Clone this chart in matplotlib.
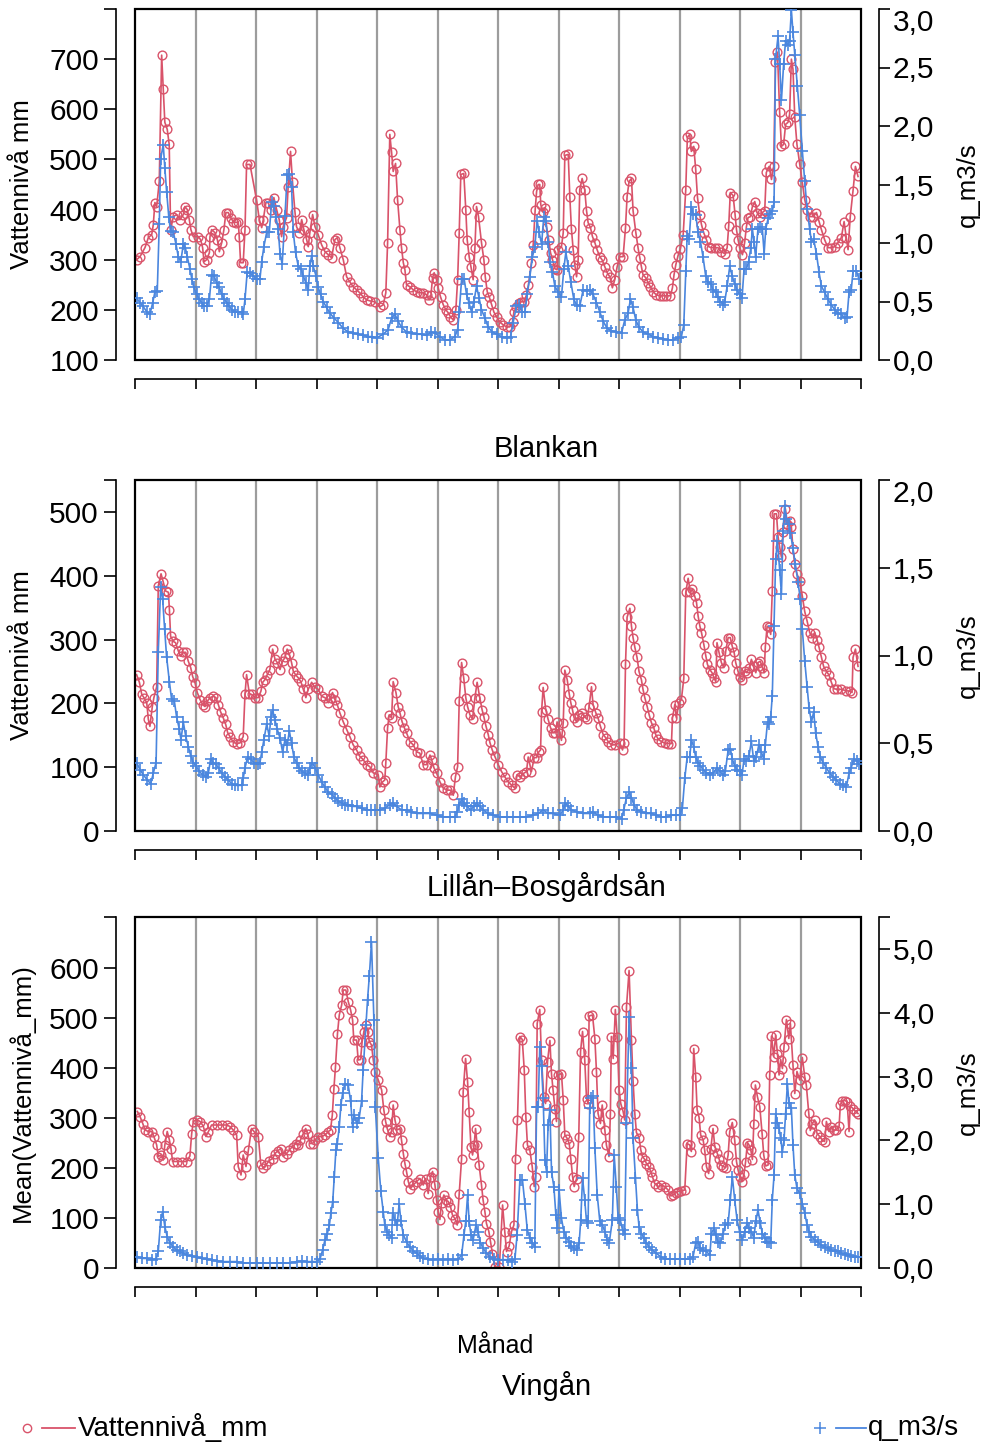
import matplotlib
matplotlib.use('Agg')
import matplotlib.pyplot as plt
from matplotlib.lines import Line2D
from matplotlib.patches import Rectangle

plt.rcParams['font.family'] = ['Liberation Sans', 'DejaVu Sans']

# ---------------- data: (day of year, value) ----------------
blankan_niva = [
    (0.8,300),(2.5,306),(5,324),(6.7,344),(8.4,350),(9.2,370),(10,414),(10.9,406),(12.2,456),(13.4,708),
    (14.2,640),(15,574),(16.2,560),(17.2,530),(17.9,360),(19.3,386),(20.9,390),(22.6,380),(24.3,390),(25.1,406),
    (26.3,400),(27.3,380),(28.1,360),(29.3,346),(31.8,346),(33,340),(34,324),(34.7,296),(36,300),(37.4,314),
    (37.7,346),(38.5,360),(40.2,354),(41.4,340),(42.4,316),(43.6,334),(44.7,360),(45.7,394),(46.9,394),(48.1,384),
    (49.4,376),(50.8,374),(51.9,376),(52.4,346),(53.1,294),(54.4,294),(55.3,360),(56.1,490),(57.8,490),(61.1,420),
    (62.5,380),(63.7,364),(64.5,380),(65.8,414),(67,414),(68.2,400),(69.8,424),(71.2,400),(72.5,380),(73.7,346),
    (74.5,366),(76.2,384),(77,446),(78.2,516),(79.2,454),(80.4,396),(81.2,366),(82.6,354),(83.8,380),(84.9,360),
    (86.3,340),(87.1,326),(87.9,354),(89.3,390),(90.5,366),(92.1,350),(93.8,330),(95.5,316),(97.2,310),(98.8,304),
    (100.5,340),(101.7,344),(103,324),(104.7,300),(106.4,266),(108,256),(109.7,246),(111.4,240),(113,234),(114.7,226),
    (116.4,220),(118,218),(120.6,216),(123,206),(124.8,210),(126.1,234),(127,334),(128.1,550),(129,514),(129.8,476),
    (131,492),(132,420),(133.2,360),(134,324),(134.9,294),(135.7,280),(136.5,250),(138.2,246),(139.9,240),(141.6,236),
    (143.2,234),(144.9,234),(146.6,230),(147.9,220),(148.8,230),(149.6,264),(150.4,274),(151.6,260),(152.4,244),(153.6,226),
    (155,210),(156.3,200),(157.5,194),(158.6,186),(160,180),(161.3,200),(162.2,260),(163,354),(163.8,470),(165.3,472),
    (166.3,400),(167,340),(168,306),(168.9,286),(170,260),(170.9,324),(171.7,406),(172.7,386),(174.2,334),(175.4,300),
    (176.1,266),(177.1,236),(178.1,226),(179.2,212),(180.4,196),(181.8,186),(183.4,176),(185.1,170),(186.8,166),(188.4,166),
    (189.8,176),(190.5,196),(191.8,206),(193.1,214),(194.3,216),(195.7,216),(196.8,230),(197.8,250),(199.3,294),(200.2,330),
    (201.2,400),(201.9,436),(202.7,450),(203.5,450),(204,410),(204.9,396),(206,404),(206.9,366),(208,340),(208.9,314),
    (209.9,300),(211.1,282),(212.2,280),(212.9,320),(214.4,326),(215.3,354),(216.1,508),(217.8,510),(218.6,426),(219.4,362),
    (220.3,320),(221.1,290),(222,266),(222.8,300),(223.6,440),(224.8,462),(226.1,440),(227,398),(227.8,374),(229,364),
    (230,346),(231.2,334),(232.3,320),(233.7,306),(234.8,300),(236.2,286),(237.4,274),(238.7,266),(240,244),(241.2,260),
    (242.4,286),(243.7,306),(245.4,306),(246.6,364),(247.4,426),(248.4,456),(249.6,462),(250.4,398),(251.8,354),(252.9,324),
    (253.8,304),(254.6,286),(255.4,270),(256.8,264),(258,254),(259.1,246),(260.5,236),(262.1,230),(263.8,228),(265.5,228),
    (267.2,228),(269.2,228),(270.2,244),(271,270),(271.9,290),(273,308),(274.2,322),(275.6,350),(276.9,440),(277.7,544),
    (278.9,550),(279.7,516),(280.9,526),(281.9,480),(282.8,424),(283.9,390),(284.8,370),(285.9,354),(287.3,340),(288.4,326),
    (289.8,324),(291.5,324),(293.1,324),(294.8,316),(296.5,312),(297.7,324),(298.5,368),(299.3,434),(300.7,428),(301.7,390),
    (302.4,360),(303.2,340),(304,324),(305.4,310),(306.5,334),(307.4,366),(308.2,384),(309.4,386),(310.4,406),(311.6,416),
    (312.7,394),(314.1,386),(315.4,394),(316.6,398),(317.4,474),(318.8,486),(320,460),(321.1,486),(322,694),(323,714),
    (324.1,594),(325,526),(326.1,530),(327.1,570),(328.3,574),(329.1,590),(330,700),(330.8,680),(331.7,584),(332.8,530),
    (334.2,490),(335.5,454),(336.7,420),(337.9,400),(339.2,386),(340.9,386),(342.6,394),(343.9,376),(345.1,360),(346.7,340),
    (348.4,324),(350.1,324),(351.8,326),(353.4,334),(355.1,344),(356.5,376),(357.6,344),(358.5,320),(359.6,386),(361,438),
    (362.2,486),(363.5,466),
]
blankan_q = [
    (0.8,0.53),(2.5,0.49),(4,0.46),(6,0.41),(7.5,0.39),(8.9,0.49),(10,0.58),(11.2,0.59),(12.2,1.16),(12.9,1.72),
    (14.2,1.84),(15,1.64),(15.9,1.44),(17,1.22),(17.9,1.10),(19.3,1.09),(20.6,0.99),(21.8,0.88),(23,0.84),(24.3,0.99),
    (25.3,0.96),(26.3,0.88),(27.6,0.78),(28.6,0.69),(29.6,0.62),(31,0.56),(32.3,0.52),(33.5,0.49),(34.7,0.46),(36,0.46),
    (37.4,0.52),(38.5,0.73),(39.7,0.72),(41,0.66),(42.4,0.62),(43.6,0.56),(44.9,0.52),(46.1,0.49),(47.4,0.46),(48.7,0.43),
    (50.3,0.41),(51.9,0.41),(53.6,0.41),(54.4,0.39),(55.3,0.52),(56.4,0.75),(57.8,0.74),(59.5,0.72),(61.1,0.69),(62.8,0.69),
    (63.7,0.84),(64.8,0.97),(66.2,1.09),(67.5,1.09),(68.7,1.35),(69.8,1.32),(70.9,1.22),(72,1.12),(72.9,0.91),(74,0.82),
    (75.4,1.23),(76.5,1.58),(77.6,1.59),(78.7,1.48),(79.6,1.09),(80.7,0.92),(82.1,0.80),(83.4,0.78),(84.6,0.72),(85.9,0.66),
    (87.1,0.60),(87.9,0.80),(88.8,0.89),(89.6,0.80),(91,0.72),(92.1,0.62),(93.3,0.56),(94.6,0.50),(96.3,0.45),(98,0.40),
    (100,0.36),(102.2,0.32),(104.7,0.27),(107.2,0.24),(109.7,0.23),(112.2,0.22),(114.7,0.21),(117.3,0.20),(119,0.20),(121.5,0.19),
    (124.8,0.22),(127.3,0.26),(129,0.36),(130.7,0.39),(132.3,0.33),(134,0.28),(136.5,0.24),(139,0.23),(141.6,0.22),(144.1,0.22),
    (146.6,0.21),(148.8,0.24),(150.8,0.23),(153.3,0.20),(155.8,0.17),(158.3,0.17),(160.8,0.20),(162.2,0.26),(163,0.41),(164.2,0.69),
    (165.5,0.69),(166.7,0.56),(167.9,0.49),(169.2,0.41),(170.4,0.50),(171.7,0.63),(173,0.53),(174.2,0.43),(175.9,0.36),(177.6,0.28),
    (179.6,0.24),(181.8,0.22),(184.3,0.20),(186.8,0.19),(188.8,0.20),(190.1,0.32),(191.8,0.46),(193.1,0.47),(194.8,0.41),(196,0.41),
    (197.2,0.56),(198.5,0.71),(199.8,0.88),(201,0.97),(202.2,1.19),(203.2,1.09),(204.4,0.99),(205.5,1.22),(206.5,1.19),(207.7,1.01),
    (208.6,0.84),(209.9,0.75),(211.1,0.63),(212.7,0.58),(214.4,0.54),(215.6,0.78),(216.6,0.92),(217.8,0.80),(219.1,0.67),(220.6,0.52),
    (222,0.47),(223.6,0.46),(225.3,0.60),(227,0.59),(228.6,0.60),(230.3,0.56),(232,0.49),(233.7,0.41),(235.4,0.33),(237.4,0.27),
    (239.5,0.25),(242,0.24),(244.6,0.23),(246.2,0.34),(247.9,0.40),(249.1,0.52),(250.4,0.45),(251.8,0.34),(253.4,0.28),(255.4,0.24),
    (258,0.22),(260.5,0.20),(263,0.19),(265.5,0.18),(268,0.17),(270.5,0.17),(273,0.19),(274.7,0.20),(275.9,0.30),(276.9,0.76),
    (277.6,1.06),(278.6,1.03),(279.7,1.31),(280.6,1.25),(281.9,1.24),(283.1,1.09),(284.3,1.01),(285.6,0.88),(286.9,0.72),(288.1,0.67),
    (289.5,0.65),(290.6,0.60),(292,0.58),(293.1,0.54),(294.3,0.50),(295.7,0.47),(296.5,0.50),(297.7,0.63),(299,0.80),(300.2,0.72),
    (301.5,0.65),(302.7,0.60),(304,0.56),(305.2,0.53),(306.2,0.78),(307.4,0.78),(308.5,0.84),(309.6,0.96),(310.4,1.12),(311.2,1.01),
    (312,0.88),(313.2,1.12),(314.4,1.14),(315.4,1.12),(316.3,0.91),(317.1,1.12),(318.3,1.21),(319.1,1.25),(320.4,1.27),(321.3,1.35),
    (322,2.57),(323.3,2.77),(324.1,2.53),(325,2.22),(326.1,2.53),(327.1,2.73),(328.3,2.69),(329.1,2.73),(330,2.99),(330.8,2.80),
    (331.7,2.61),(333,2.34),(334.2,2.09),(335.5,1.79),(336.7,1.53),(337.9,1.29),(339.2,1.12),(340.1,1.01),(341.2,1.03),(342.6,0.91),
    (343.9,0.75),(345.1,0.63),(346.7,0.58),(348.4,0.52),(350.1,0.47),(351.8,0.43),(353.4,0.40),(355.1,0.39),(356.8,0.36),(358,0.37),
    (359,0.58),(360.1,0.60),(361,0.76),(362.7,0.76),(364,0.69),
]
lillan_niva = [
    (0.8,245),(2.2,233),(3.4,214),(4.5,209),(5.9,201),(6.7,175),(7.5,164),(8.7,195),(9.5,209),(10.9,226),
    (11.7,384),(13.1,403),(14.2,390),(15.4,376),(16.8,374),(17.3,347),(17.9,305),(19.3,297),(20.4,295),(21.8,282),
    (22.9,274),(24.3,280),(25.5,280),(26.8,266),(28,256),(29,242),(30.2,232),(31.3,217),(32.7,206),(34,198),
    (35.2,195),(36.3,203),(37.7,209),(39.4,211),(40.7,209),(41.9,198),(43,187),(44.4,177),(45.6,167),(46.6,154),
    (47.7,148),(49.4,139),(51.1,137),(52.8,138),(54.4,148),(55.3,214),(56.1,245),(57.5,215),(58.6,214),(60.3,209),
    (62,209),(63.3,219),(64.2,233),(65.3,237),(66.5,245),(67.8,253),(69.2,285),(70.4,269),(71.5,264),(72.9,253),
    (74.2,266),(75.4,272),(76.5,285),(77.6,277),(78.7,264),(79.6,250),(80.7,245),(82.1,240),(83.4,234),(84.6,222),
    (85.9,209),(87.1,222),(88.8,233),(90.5,225),(92.1,222),(93.8,211),(95.5,209),(97.2,201),(98.3,209),(99.3,217),
    (100.5,206),(101.7,198),(103,185),(104.7,171),(106.4,159),(108,148),(109.7,135),(111.4,127),(113,117),(114.7,112),
    (116.4,104),(118,101),(119.8,91),(122.3,88),(123.1,69),(124.5,77),(125.6,80),(126.1,107),(127,162),(127.8,182),
    (129,177),(129.8,234),(131.2,217),(132.3,195),(133.2,185),(134.3,171),(135.4,162),(136.5,154),(138.2,140),(139.9,135),
    (141.6,124),(143.2,122),(144.9,104),(146.6,104),(148.3,119),(149.1,112),(150.3,99),(151.6,91),(153.3,77),(155,67),
    (157,64),(158.6,64),(160,56),(161.1,85),(162.2,101),(163,203),(164.2,264),(165.3,239),(166.3,209),(167.2,195),
    (168.4,182),(169.7,175),(170.9,209),(172,233),(173.4,208),(174.5,190),(175.4,179),(176.4,165),(177.6,151),(178.4,139),
    (179.6,127),(180.9,117),(182.6,104),(184.3,93),(185.9,85),(187.6,77),(189.3,72),(191,67),(192.1,88),(193.5,85),
    (195.2,90),(196.8,93),(197.7,116),(199.3,93),(200.7,115),(201.9,115),(203,124),(203.9,127),(204.4,187),(205.2,225),
    (206.5,190),(207.7,175),(208.9,162),(210.2,154),(211.4,154),(212.2,171),(213.6,154),(214.4,142),(215.3,170),(216.1,252),
    (217.3,237),(218.3,215),(219.1,201),(220,189),(220.8,177),(222,171),(223.1,182),(224.5,185),(226.1,179),(227.3,175),
    (228.3,195),(229.5,226),(230.3,198),(231.7,185),(232.8,177),(234,164),(235.4,151),(236.7,146),(237.9,140),(239.5,135),
    (241.2,135),(243.7,138),(245.1,127),(245.9,138),(246.6,261),(247.4,335),(248.8,349),(249.6,321),(250.4,303),(251.3,288),
    (252.4,272),(253.4,250),(254.6,237),(255.4,222),(256.3,209),(257.5,195),(258.5,182),(259.6,170),(260.8,162),(261.8,151),
    (263,144),(264.7,140),(266.3,138),(268,137),(269.7,137),(270.2,177),(271.4,198),(272.2,177),(273.4,201),(274.7,206),
    (275.9,239),(276.9,374),(278.1,396),(279.2,374),(280.2,379),(281.4,368),(282.3,358),(283.1,337),(284,321),(284.8,311),
    (286,292),(287,274),(287.8,261),(289,253),(290.1,248),(291.1,240),(292,234),(292.6,295),(293.6,280),(294.8,264),
    (296,256),(297,282),(298.2,303),(299.3,303),(300.3,289),(301.2,280),(302,264),(303.2,250),(304,242),(305.4,237),
    (306.5,250),(307.7,248),(308.7,255),(309.9,269),(311.1,258),(312.1,248),(313.2,264),(314.4,266),(315.4,256),(316.3,248),
    (316.9,289),(317.8,321),(318.8,319),(319.6,308),(320.4,376),(321.3,497),(322.5,497),(323.3,461),(324.1,445),(325,429),
    (325.8,468),(327,505),(328,481),(329.1,486),(330,476),(330.8,442),(331.7,418),(332.8,403),(334.2,392),(335.5,368),
    (336.7,344),(337.9,329),(339.2,311),(340.5,303),(341.7,311),(342.9,300),(343.9,288),(345.1,272),(346.2,258),(347.6,250),
    (348.8,245),(350.1,233),(351.3,223),(353,222),(355.1,222),(357.3,220),(359.3,219),(360.5,217),(361,272),(362.2,285),
    (363.5,258),
]
lillan_q = [
    (0.8,0.39),(2.5,0.35),(4.2,0.32),(6.2,0.29),(7.9,0.27),(9.2,0.33),(10.6,0.39),(11.7,1.02),(12.9,1.39),(13.9,1.32),
    (14.9,1.15),(15.9,0.99),(17.3,0.85),(18.4,0.75),(19.8,0.74),(20.9,0.65),(22.3,0.58),(23.1,0.52),(24.3,0.62),(25.5,0.54),
    (26.8,0.48),(28,0.43),(29.3,0.39),(30.7,0.37),(32.3,0.34),(34,0.32),(35.7,0.31),(36.9,0.33),(38,0.41),(39.4,0.39),
    (40.7,0.38),(42,0.36),(43.6,0.33),(45.2,0.31),(46.9,0.29),(48.6,0.27),(50.3,0.26),(51.9,0.26),(53.6,0.26),(54.4,0.30),
    (55.3,0.36),(56.6,0.42),(58.1,0.41),(59.8,0.39),(61.6,0.38),(62.8,0.39),(63.7,0.45),(64.8,0.52),(66.2,0.61),(67.5,0.54),
    (68.3,0.65),(69.2,0.69),(70.4,0.63),(71.5,0.58),(72.9,0.53),(74.2,0.45),(75.4,0.52),(76.5,0.49),(77.6,0.57),(78.7,0.50),
    (79.9,0.42),(81.2,0.39),(82.6,0.36),(83.9,0.34),(85.4,0.33),(86.8,0.32),(87.9,0.36),(89.1,0.39),(90.5,0.36),(92.1,0.32),
    (93.8,0.28),(95.5,0.25),(97.2,0.22),(98.8,0.21),(100.5,0.19),(102.2,0.17),(103.9,0.16),(105.5,0.15),(107.2,0.15),(108.9,0.14),
    (111.4,0.14),(113.9,0.13),(116.4,0.12),(118.9,0.12),(120.6,0.12),(123.1,0.12),(125.6,0.13),(128.1,0.15),(129.8,0.16),(131.5,0.14),
    (134,0.12),(136.5,0.12),(139,0.11),(141.6,0.10),(144.9,0.10),(148.3,0.10),(151.6,0.09),(155,0.08),(158.3,0.08),(160.8,0.08),
    (162,0.11),(163,0.15),(164.2,0.18),(165.5,0.16),(167,0.14),(168.7,0.12),(170.4,0.14),(171.7,0.16),(173.4,0.14),(175,0.12),
    (177.6,0.10),(180.1,0.09),(183.4,0.08),(186.8,0.08),(190.1,0.08),(193.5,0.08),(196.8,0.08),(200.2,0.09),(202.7,0.10),(205.2,0.12),
    (207.7,0.10),(210.2,0.10),(213.6,0.09),(215.3,0.12),(216.4,0.16),(217.8,0.14),(219.4,0.12),(222,0.11),(225.3,0.10),(228.6,0.10),
    (230.3,0.11),(232.8,0.09),(235.4,0.08),(238.7,0.08),(242,0.08),(244.6,0.07),(245.7,0.12),(247.1,0.19),(248.4,0.22),(249.6,0.19),
    (250.8,0.15),(252.4,0.12),(254.6,0.11),(257.1,0.10),(259.6,0.10),(262.1,0.09),(264.7,0.08),(267.2,0.08),(269.7,0.09),(272.2,0.09),
    (273.9,0.09),(275.2,0.13),(276.4,0.30),(277.6,0.42),(278.9,0.42),(279.7,0.52),(280.9,0.48),(281.9,0.42),(283.1,0.39),(284.3,0.37),
    (285.6,0.35),(287.3,0.33),(289,0.32),(290.6,0.33),(292.6,0.36),(294,0.34),(295.7,0.32),(296.8,0.34),(298.2,0.46),(299.3,0.47),
    (300.3,0.41),(301.5,0.37),(302.7,0.35),(304,0.34),(305.2,0.32),(306.2,0.41),(307.4,0.40),(308.7,0.43),(309.9,0.51),(311.1,0.40),
    (312.4,0.42),(313.6,0.49),(314.9,0.45),(316.1,0.41),(316.9,0.49),(318,0.62),(318.8,0.61),(319.6,0.65),(320.4,0.77),(321.3,1.17),
    (322.1,1.55),(323,1.65),(324.1,1.49),(325,1.35),(325.8,1.71),(326.6,1.85),(327.5,1.78),(328.7,1.75),(329.5,1.70),(330.8,1.61),
    (332,1.52),(333.3,1.42),(334.5,1.32),(335.5,1.15),(336.7,0.97),(337.9,0.82),(338.9,0.70),(340.1,0.62),(341.2,0.68),(342.2,0.56),
    (343.4,0.48),(344.6,0.42),(345.9,0.39),(347.6,0.36),(349.2,0.33),(350.9,0.31),(352.6,0.29),(354.3,0.27),(356,0.26),(357.6,0.25),
    (359,0.33),(360.1,0.36),(361.3,0.41),(363,0.40),(364,0.38),
]
vingan_niva = [
    (1.2,313),(2.5,303),(3.9,289),(5,276),(6.7,273),(8.4,273),(9.5,263),(10.9,246),(11.7,223),(12.9,226),
    (14.2,216),(15,246),(16.2,273),(17.3,256),(18.1,239),(18.9,213),(20.9,213),(23.5,213),(26,213),(27.6,224),
    (28.5,269),(29.3,293),(31,297),(32.7,293),(34.3,284),(35.7,263),(36.9,273),(38.5,286),(41,286),(43.6,286),
    (46.1,286),(47.7,283),(49.4,276),(51.1,266),(51.9,203),(53.3,186),(54.4,226),(55.8,203),(57,236),(58.6,279),
    (59.8,273),(62,263),(63.2,209),(64.5,201),(65.8,206),(67.5,215),(69.2,219),(70.4,229),(72,235),(73.2,239),
    (74.5,223),(76.2,229),(77.6,236),(79.2,243),(80.9,249),(82.1,246),(83.2,256),(84.6,269),(85.8,279),(86.8,269),
    (87.9,249),(89.3,249),(90.5,256),(92.1,263),(93.8,263),(95.5,266),(97.2,273),(98.3,276),(99.2,306),(100,359),
    (100.8,403),(101.8,469),(102.7,506),(103.9,526),(104.7,556),(106,556),(107.2,533),(108.4,516),(109.4,496),(110,456),
    (111.4,456),(112.2,416),(113.4,417),(114.2,453),(115.1,473),(116.1,486),(116.9,473),(117.8,453),(118.9,446),(119.8,416),
    (120.6,393),(122.3,376),(124,356),(125.1,316),(126,293),(126.8,279),(128.1,263),(129,273),(129.8,326),(130.7,296),
    (131.8,276),(133.2,279),(134,256),(134.9,229),(135.7,209),(136.5,193),(137.4,173),(138.5,159),(139.9,166),(141.6,173),
    (143.2,179),(144.9,166),(146.2,179),(147.4,149),(148.6,183),(149.6,193),(150.8,166),(151.6,136),(152.4,113),(153.3,97),
    (154.1,131),(155.3,146),(156.3,136),(157.5,133),(158.6,123),(159.6,106),(160.8,99),(162,86),(163,149),(164.2,219),
    (165,353),(166.2,419),(167.2,373),(168,313),(168.9,243),(169.7,226),(170.5,246),(171.2,279),(172,246),(173,206),
    (174.2,166),(175,136),(175.9,113),(176.7,89),(177.9,73),(178.7,53),(179.7,29),(180.9,2),(183.2,2),(184.8,126),
    (185.9,73),(186.8,33),(188.1,44),(189.3,73),(190.5,86),(191.3,219),(192.3,297),(193.5,463),(194.7,457),(195.7,396),
    (196.5,303),(197.3,246),(198.5,236),(199.7,203),(200.7,163),(201.4,183),(202.2,489),(203.5,517),(204.4,416),(205.5,343),
    (206.4,329),(207.4,413),(208.6,455),(209.4,388),(210.2,356),(211.1,319),(211.9,293),(212.7,386),(214.4,389),(215.3,336),
    (216.1,266),(217.3,259),(218.3,249),(219.1,219),(220,183),(220.8,163),(222,179),(223.1,263),(224,433),(225,473),
    (226.1,417),(227,339),(227.8,329),(228.3,504),(230,506),(231.2,459),(232,393),(232.8,309),(234,289),(234.9,326),
    (236.2,276),(237,246),(238.3,223),(239,308),(239.5,463),(240.4,419),(241.5,517),(242.4,463),(243.4,356),(244.2,329),
    (245.4,313),(246.2,296),(247.1,523),(248.4,595),(249.6,456),(250.4,375),(251.3,308),(252.1,271),(253.4,261),(254.3,236),
    (255.1,223),(256.3,217),(257.1,209),(258.3,203),(259.3,193),(260.1,183),(261.3,169),(263,163),(264.7,166),(266.3,163),
    (268,156),(269.4,144),(270.5,146),(271.9,151),(273,153),(274.7,155),(276.4,156),(277.6,249),(278.9,246),(279.7,233),
    (280.9,439),(281.9,383),(282.6,317),(283.6,301),(284.4,266),(285.6,257),(286.4,236),(287.3,203),(288.4,189),(289.5,239),
    (290.6,279),(291.5,243),(292.6,231),(293.6,219),(294.5,206),(295.7,203),(297,201),(298.2,226),(299,273),(300.3,291),
    (301.5,256),(302.4,213),(303.2,196),(304,183),(305.2,173),(306.2,189),(307,213),(307.9,251),(308.7,246),(309.6,236),
    (310.4,217),(311.1,289),(311.9,366),(312.9,343),(314.1,323),(315.3,268),(316.1,226),(317.1,204),(318.3,206),(319.1,386),
    (320,464),(321.1,423),(322.1,466),(323,429),(323.8,386),(324.6,417),(325.5,399),(326.3,443),(327.5,497),(328.7,459),
    (329.5,489),(330.8,406),(331.7,349),(332.8,393),(334.2,376),(335.5,421),(336.7,383),(337.5,366),(338.7,311),(339.5,275),
    (340.5,289),(341.7,296),(342.9,269),(344.2,263),(345.6,256),(346.7,253),(347.6,293),(348.9,273),(350.1,283),(351.3,276),
    (352.6,276),(354,284),(354.6,326),(355.6,335),(356.8,335),(358,333),(359,273),(359.6,324),(361,319),(362.3,313),
    (363.5,309),
]
vingan_q = [
    (1.2,0.18),(3.4,0.15),(5.9,0.15),(8.4,0.13),(10.6,0.14),(11.7,0.26),(12.9,0.75),(13.9,0.88),(15,0.65),(16.2,0.49),
    (17.6,0.39),(19.3,0.33),(20.9,0.28),(22.6,0.26),(24.3,0.23),(26.3,0.20),(28.5,0.19),(31,0.17),(33.5,0.15),(36,0.14),
    (38.5,0.13),(41,0.11),(44.4,0.10),(47.7,0.10),(51.1,0.10),(54.4,0.08),(57.8,0.08),(61.1,0.08),(64.5,0.08),(67.8,0.08),
    (71.2,0.08),(74.5,0.08),(77.9,0.08),(81.2,0.10),(83.8,0.11),(86.3,0.10),(88.8,0.10),(91.3,0.10),(93,0.14),(94.3,0.28),
    (95.5,0.44),(96.7,0.54),(97.7,0.67),(98.5,0.86),(99.4,1.04),(100.2,1.43),(101,1.85),(101.7,1.95),(102.7,2.21),(103.5,2.55),
    (104.4,2.74),(105.5,2.89),(107.2,2.87),(108.4,2.61),(109.4,2.21),(110.2,2.40),(111.4,2.27),(112.7,2.35),(113.9,2.61),(114.7,3.10),
    (116.1,3.81),(116.9,4.20),(117.8,4.57),(118.9,5.11),(120.1,3.89),(120.8,2.53),(122.3,1.72),(123.6,1.20),(124.8,0.88),(125.6,0.67),
    (126.8,0.57),(127.8,0.52),(129,0.47),(129.5,0.86),(130.7,0.75),(131.8,0.67),(132.8,1.01),(133.7,0.73),(134.9,0.52),(136.5,0.41),
    (138.2,0.33),(139.9,0.27),(141.6,0.23),(143.2,0.19),(144.9,0.15),(147.4,0.14),(149.9,0.13),(152.4,0.14),(155,0.13),(157.5,0.14),
    (160,0.13),(162.5,0.14),(164.2,0.20),(165.4,0.52),(166.3,0.73),(167.2,1.14),(168,0.73),(168.9,0.52),(170,0.44),(171.4,0.67),
    (172.5,0.57),(173.7,0.39),(175,0.31),(176.7,0.23),(178.4,0.18),(180.4,0.14),(182.6,0.13),(185.1,0.13),(187.6,0.13),(189.3,0.10),
    (191,0.14),(192.1,0.52),(193.5,1.38),(194.8,1.38),(196,1.01),(197.2,0.60),(198.5,0.47),(199.8,0.39),(201,0.33),(201.9,2.53),
    (202.7,2.53),(203.5,3.47),(204.4,3.16),(205.2,2.66),(206.1,1.69),(206.9,1.51),(207.7,2.24),(208.6,2.48),(209.4,1.51),(210.6,1.27),
    (211.6,0.83),(212.4,0.62),(213.2,1.22),(214.4,0.78),(215.6,0.57),(216.9,0.47),(218.3,0.41),(219.4,0.34),(220.6,0.31),(222,0.28),
    (223.3,0.39),(224.1,0.75),(225,1.41),(226.1,1.07),(227,0.73),(227.8,0.70),(228.6,2.50),(229.5,2.66),(230.3,2.69),(231.2,1.88),
    (232.4,1.14),(233.7,0.73),(235,0.67),(236.2,0.57),(237.4,0.44),(238.4,0.39),(240,0.75),(240.9,1.77),(242,1.27),(242.9,0.78),
    (244,0.75),(245.1,0.60),(246.2,0.54),(247.1,2.27),(248.4,3.94),(249.6,3.13),(250.4,2.03),(251.6,1.41),(252.6,0.91),(253.4,0.65),
    (254.6,0.54),(255.8,0.47),(257.1,0.39),(258.5,0.33),(260.1,0.28),(262.1,0.23),(264.2,0.18),(266.3,0.14),(268.9,0.14),(271.4,0.14),
    (273.9,0.14),(276.4,0.14),(278.9,0.14),(280.6,0.18),(281.9,0.39),(283.1,0.41),(284.3,0.31),(285.6,0.28),(287.3,0.26),(289,0.20),
    (289.8,0.54),(291,0.62),(292,0.52),(293.1,0.41),(294.3,0.39),(295.7,0.54),(296.8,0.67),(298.2,0.70),(299.3,1.07),(300.3,1.43),
    (301.5,1.07),(302.7,0.75),(304,0.57),(305.4,0.44),(306.5,0.57),(307.7,0.70),(308.7,0.62),(309.9,0.57),(311.1,0.47),(312.1,0.73),
    (313.2,0.91),(314.4,0.70),(315.4,0.54),(316.6,0.47),(317.8,0.41),(318.8,0.41),(319.6,0.39),(320.4,1.07),(321.3,1.46),(322.1,2.42),
    (323,2.27),(323.8,2.19),(324.6,2.03),(325.5,1.82),(326.3,2.01),(327.1,2.42),(328,2.89),(328.8,2.58),(330,2.50),(330.8,1.93),
    (331.7,1.46),(332.8,1.25),(334.2,1.17),(335.5,1.01),(336.7,0.86),(337.9,0.67),(338.9,0.57),(340.1,0.49),(341.7,0.44),(343.4,0.40),
    (345.1,0.36),(346.7,0.33),(348.4,0.31),(350.1,0.28),(351.8,0.27),(353.4,0.26),(355.1,0.23),(356.8,0.22),(358.5,0.20),(360.1,0.19),
    (361.8,0.18),(363.5,0.17),
]

area_names = ['Blankan', 'Lillån–Bosgårdsån', 'Vingån']
left_labels = ['Vattennivå mm', 'Vattennivå mm', 'Mean(Vattennivå_mm)']
right_label = 'q_m3/s'
x_label = 'Månad'
legend_labels = ['Vattennivå_mm', 'q_m3/s']
left_ticks = [[100, 200, 300, 400, 500, 600, 700], [0, 100, 200, 300, 400, 500], [0, 100, 200, 300, 400, 500, 600]]
left_lims = [(100, 800), (0, 550), (0, 702)]
right_ticks = [[0, 0.5, 1.0, 1.5, 2.0, 2.5, 3.0], [0, 0.5, 1.0, 1.5, 2.0], [0, 1, 2, 3, 4, 5]]
right_lims = [(0, 3.0), (0, 2.0), (0, 5.5)]
niva_series = [blankan_niva, lillan_niva, vingan_niva]
q_series = [blankan_q, lillan_q, vingan_q]
n_months = 12
year_len = 365

# ---------------- style / layout ----------------
RED = '#D9536A'
BLUE = '#4A86DE'
GRID = '#9C9C9C'
W, H = 982, 1442
TICK_FS = 21.5
LAB_FS = 18.5
TITLE_FS = 21

fig = plt.figure(figsize=(W / 100, H / 100), dpi=100)

def fxp(px):
    return px / W

def fyp(py):
    return 1 - py / H

panel_px = [(9, 360), (480, 831), (917, 1268)]
title_y = [449, 887, 1386]
boundaries = [year_len * k / n_months for k in range(n_months + 1)]

def fmt_comma(v):
    return ('%.1f' % v).replace('.', ',')

for i in range(3):
    top, bot = panel_px[i]
    ax = fig.add_axes([fxp(135), fyp(bot), fxp(861) - fxp(135), (bot - top) / H])
    ax.set_xlim(0, year_len)
    ax.set_ylim(*left_lims[i])
    ax.set_facecolor('white')

    for s in ['top', 'right']:
        ax.spines[s].set_visible(False)
    ax.spines['left'].set_position(('outward', 14))
    ax.spines['bottom'].set_position(('outward', 14))
    for s in ['left', 'bottom']:
        ax.spines[s].set_linewidth(1.2)
    ax.add_patch(Rectangle((0, 0), 1, 1, transform=ax.transAxes, fill=False,
                           ec='black', lw=1.6, clip_on=False, zorder=6))

    ax.set_xticks(boundaries)
    ax.set_xticklabels([])
    ax.tick_params(axis='x', length=7, width=1.2, direction='out')

    lt = left_ticks[i] + [left_lims[i][1]]
    ax.set_yticks(lt)
    ax.set_yticklabels([str(v) for v in left_ticks[i]] + [''])
    ax.tick_params(axis='y', length=9, width=1.2, direction='out', labelsize=TICK_FS, pad=3)

    for b in boundaries[1:-1]:
        ax.axvline(b, color=GRID, lw=1.6, zorder=0.5)

    dn = [d for d, v in niva_series[i]]
    vn = [v for d, v in niva_series[i]]
    ax.plot(dn, vn, color=RED, lw=1.2, marker='o', ms=6.3, mfc='none', mec=RED, mew=1.0, zorder=3)

    ax2 = ax.twinx()
    ax2.set_ylim(*right_lims[i])
    for s in ['top', 'left', 'bottom']:
        ax2.spines[s].set_visible(False)
    ax2.spines['right'].set_position(('outward', 13))
    ax2.spines['right'].set_linewidth(1.2)
    rt = right_ticks[i]
    rlabels = [fmt_comma(v) for v in rt]
    if rt[-1] < right_lims[i][1]:
        rt = rt + [right_lims[i][1]]
        rlabels = rlabels + ['']
    ax2.set_yticks(rt)
    labs = ax2.set_yticklabels(rlabels)
    if rlabels[-1] != '':
        labs[-1].set_verticalalignment('top')
    ax2.tick_params(axis='y', length=8, width=1.2, direction='out', labelsize=TICK_FS, pad=2)

    dq = [d for d, v in q_series[i]]
    vq = [v for d, v in q_series[i]]
    ax2.plot(dq, vq, color=BLUE, lw=1.2, marker='+', ms=8.5, mew=1.2, zorder=3)

    yc = (top + bot) / 2
    fig.text(fxp(22), fyp(yc), left_labels[i], rotation=90, ha='center', va='center', fontsize=LAB_FS)
    fig.text(fxp(968), fyp(yc), right_label, rotation=90, ha='center', va='center', fontsize=LAB_FS)
    fig.text(fxp(546.5), fyp(title_y[i]), area_names[i], ha='center', va='center', fontsize=TITLE_FS)

fig.text(fxp(495.5), fyp(1346), x_label, ha='center', va='center', fontsize=18)

# legend
ly = fyp(1428)
fig.add_artist(Line2D([fxp(27)], [ly], transform=fig.transFigure, marker='o', ms=6,
                      mfc='none', mec=RED, mew=1.0, ls='none'))
fig.add_artist(Line2D([fxp(42), fxp(75)], [ly, ly], transform=fig.transFigure, color=RED, lw=1.3))
fig.text(fxp(78), ly, legend_labels[0], ha='left', va='center', fontsize=20)
fig.add_artist(Line2D([fxp(820)], [ly], transform=fig.transFigure, marker='+', ms=9,
                      mec=BLUE, mew=1.1, ls='none'))
fig.add_artist(Line2D([fxp(836), fxp(866)], [ly, ly], transform=fig.transFigure, color=BLUE, lw=1.3))
fig.text(fxp(868), ly, legend_labels[1], ha='left', va='center', fontsize=20)

fig.savefig('out.png', dpi=100, facecolor='white')
